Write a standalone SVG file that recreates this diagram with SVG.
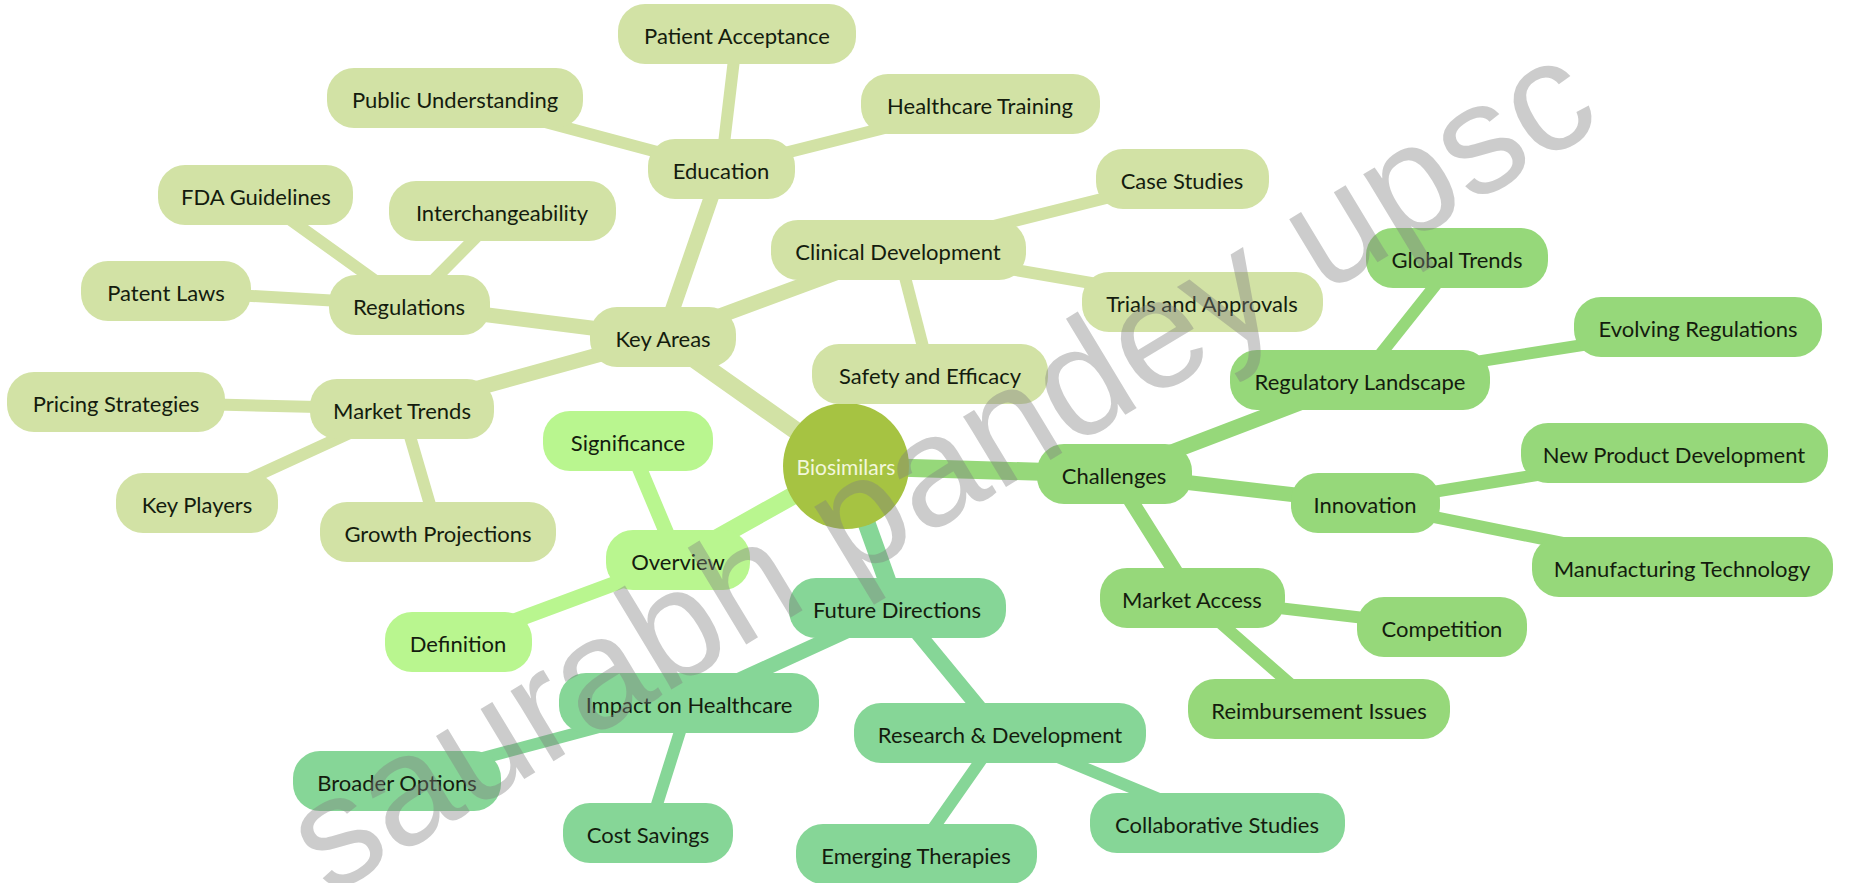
<svg xmlns="http://www.w3.org/2000/svg" width="1851" height="883" viewBox="0 0 1851 883">
<style>
text{font-family:Lato,"Open Sans","Liberation Sans",sans-serif;font-size:22px;fill:#141c0e;text-anchor:middle}
.ka rect{fill:#d2e2a5}
.ov rect{fill:#b9f68f}
.ch rect{fill:#96d87a}
.fd rect{fill:#86d697}
.e{fill:none;stroke-linecap:round}
.e1{stroke-width:18}
.e2{stroke-width:15}
.e3{stroke-width:12}
.cka{stroke:#d2e2a5}
.cov{stroke:#b9f68f}
.cch{stroke:#96d87a}
.cfd{stroke:#86d697}
.wm{font-family:"Liberation Sans",Arial,sans-serif;font-size:156px;fill:#7f7f7f;fill-opacity:0.4;text-anchor:start}
</style>
<rect width="1851" height="883" fill="#ffffff"/>
<g id="connectors">
<line class="e e1 cka" x1="846" y1="466" x2="663" y2="337"/>
<line class="e e1 cov" x1="846" y1="466" x2="678" y2="560"/>
<line class="e e1 cch" x1="846" y1="466" x2="1114" y2="474"/>
<line class="e e1 cfd" x1="846" y1="466" x2="897" y2="608"/>
<line class="e e2 cka" x1="663" y1="337" x2="721" y2="169"/>
<line class="e e2 cka" x1="663" y1="337" x2="409" y2="305"/>
<line class="e e2 cka" x1="663" y1="337" x2="402" y2="409"/>
<line class="e e2 cka" x1="663" y1="337" x2="898" y2="250"/>
<line class="e e3 cka" x1="721" y1="169" x2="737" y2="34"/>
<line class="e e3 cka" x1="721" y1="169" x2="455" y2="98"/>
<line class="e e3 cka" x1="721" y1="169" x2="980" y2="104"/>
<line class="e e3 cka" x1="409" y1="305" x2="256" y2="195"/>
<line class="e e3 cka" x1="409" y1="305" x2="502" y2="211"/>
<line class="e e3 cka" x1="409" y1="305" x2="166" y2="291"/>
<line class="e e3 cka" x1="402" y1="409" x2="116" y2="402"/>
<line class="e e3 cka" x1="402" y1="409" x2="197" y2="503"/>
<line class="e e3 cka" x1="402" y1="409" x2="438" y2="532"/>
<line class="e e3 cka" x1="898" y1="250" x2="1182" y2="179"/>
<line class="e e3 cka" x1="898" y1="250" x2="1202" y2="302"/>
<line class="e e3 cka" x1="898" y1="250" x2="930" y2="374"/>
<line class="e e2 cov" x1="678" y1="560" x2="628" y2="441"/>
<line class="e e2 cov" x1="678" y1="560" x2="458" y2="642"/>
<line class="e e2 cch" x1="1114" y1="474" x2="1360" y2="380"/>
<line class="e e2 cch" x1="1114" y1="474" x2="1365" y2="503"/>
<line class="e e2 cch" x1="1114" y1="474" x2="1192" y2="598"/>
<line class="e e3 cch" x1="1360" y1="380" x2="1457" y2="258"/>
<line class="e e3 cch" x1="1360" y1="380" x2="1698" y2="327"/>
<line class="e e3 cch" x1="1365" y1="503" x2="1674" y2="453"/>
<line class="e e3 cch" x1="1365" y1="503" x2="1682" y2="567"/>
<line class="e e3 cch" x1="1192" y1="598" x2="1442" y2="627"/>
<line class="e e3 cch" x1="1192" y1="598" x2="1319" y2="709"/>
<line class="e e2 cfd" x1="897" y1="608" x2="689" y2="703"/>
<line class="e e2 cfd" x1="897" y1="608" x2="1000" y2="733"/>
<line class="e e3 cfd" x1="689" y1="703" x2="397" y2="781"/>
<line class="e e3 cfd" x1="689" y1="703" x2="648" y2="833"/>
<line class="e e3 cfd" x1="1000" y1="733" x2="916" y2="853"/>
<line class="e e3 cfd" x1="1000" y1="733" x2="1217" y2="823"/>
</g>
<g id="n-biosimilars"><circle cx="846" cy="466" r="63" fill="#a6c342"/><text x="846" y="475" style="fill:#f2f7dc;font-size:21px">Biosimilars</text></g>
<g id="n-keyareas" class="ka"><rect x="590" y="307" width="146" height="60" rx="27"/><text x="663" y="347">Key Areas</text></g>
<g id="n-education" class="ka"><rect x="648" y="139" width="147" height="60" rx="27"/><text x="721" y="179">Education</text></g>
<g id="n-patientacceptance" class="ka"><rect x="618" y="4" width="238" height="60" rx="27"/><text x="737" y="44">Patient Acceptance</text></g>
<g id="n-publicunderstanding" class="ka"><rect x="327" y="68" width="256" height="60" rx="27"/><text x="455" y="108">Public Understanding</text></g>
<g id="n-healthcaretraining" class="ka"><rect x="861" y="74" width="239" height="60" rx="27"/><text x="980" y="114">Healthcare Training</text></g>
<g id="n-regulations" class="ka"><rect x="329" y="275" width="161" height="60" rx="27"/><text x="409" y="315">Regulations</text></g>
<g id="n-fdaguidelines" class="ka"><rect x="158" y="165" width="195" height="60" rx="27"/><text x="256" y="205">FDA Guidelines</text></g>
<g id="n-interchangeability" class="ka"><rect x="389" y="181" width="227" height="60" rx="27"/><text x="502" y="221">Interchangeability</text></g>
<g id="n-patentlaws" class="ka"><rect x="81" y="261" width="170" height="60" rx="27"/><text x="166" y="301">Patent Laws</text></g>
<g id="n-markettrends" class="ka"><rect x="310" y="379" width="184" height="60" rx="27"/><text x="402" y="419">Market Trends</text></g>
<g id="n-pricingstrategies" class="ka"><rect x="7" y="372" width="218" height="60" rx="27"/><text x="116" y="412">Pricing Strategies</text></g>
<g id="n-keyplayers" class="ka"><rect x="116" y="473" width="162" height="60" rx="27"/><text x="197" y="513">Key Players</text></g>
<g id="n-growthprojections" class="ka"><rect x="320" y="502" width="236" height="60" rx="27"/><text x="438" y="542">Growth Projections</text></g>
<g id="n-clinicaldevelopment" class="ka"><rect x="771" y="220" width="255" height="60" rx="27"/><text x="898" y="260">Clinical Development</text></g>
<g id="n-casestudies" class="ka"><rect x="1096" y="149" width="173" height="60" rx="27"/><text x="1182" y="189">Case Studies</text></g>
<g id="n-trialsandapprovals" class="ka"><rect x="1082" y="272" width="241" height="60" rx="27"/><text x="1202" y="312">Trials and Approvals</text></g>
<g id="n-safetyandefficacy" class="ka"><rect x="812" y="344" width="236" height="60" rx="27"/><text x="930" y="384">Safety and Efficacy</text></g>
<g id="n-overview" class="ov"><rect x="606" y="530" width="144" height="60" rx="27"/><text x="678" y="570">Overview</text></g>
<g id="n-significance" class="ov"><rect x="543" y="411" width="170" height="60" rx="27"/><text x="628" y="451">Significance</text></g>
<g id="n-definition" class="ov"><rect x="385" y="612" width="147" height="60" rx="27"/><text x="458" y="652">Definition</text></g>
<g id="n-challenges" class="ch"><rect x="1037" y="444" width="155" height="60" rx="27"/><text x="1114" y="484">Challenges</text></g>
<g id="n-regulatorylandscape" class="ch"><rect x="1230" y="350" width="260" height="60" rx="27"/><text x="1360" y="390">Regulatory Landscape</text></g>
<g id="n-globaltrends" class="ch"><rect x="1366" y="228" width="182" height="60" rx="27"/><text x="1457" y="268">Global Trends</text></g>
<g id="n-evolvingregulations" class="ch"><rect x="1574" y="297" width="248" height="60" rx="27"/><text x="1698" y="337">Evolving Regulations</text></g>
<g id="n-innovation" class="ch"><rect x="1291" y="473" width="149" height="60" rx="27"/><text x="1365" y="513">Innovation</text></g>
<g id="n-newproductdevelopment" class="ch"><rect x="1521" y="423" width="307" height="60" rx="27"/><text x="1674" y="463">New Product Development</text></g>
<g id="n-manufacturingtechnology" class="ch"><rect x="1532" y="537" width="301" height="60" rx="27"/><text x="1682" y="577">Manufacturing Technology</text></g>
<g id="n-marketaccess" class="ch"><rect x="1100" y="568" width="185" height="60" rx="27"/><text x="1192" y="608">Market Access</text></g>
<g id="n-competition" class="ch"><rect x="1357" y="597" width="170" height="60" rx="27"/><text x="1442" y="637">Competition</text></g>
<g id="n-reimbursementissues" class="ch"><rect x="1188" y="679" width="262" height="60" rx="27"/><text x="1319" y="719">Reimbursement Issues</text></g>
<g id="n-futuredirections" class="fd"><rect x="789" y="578" width="217" height="60" rx="27"/><text x="897" y="618">Future Directions</text></g>
<g id="n-impactonhealthcare" class="fd"><rect x="559" y="673" width="260" height="60" rx="27"/><text x="689" y="713">Impact on Healthcare</text></g>
<g id="n-broaderoptions" class="fd"><rect x="293" y="751" width="208" height="60" rx="27"/><text x="397" y="791">Broader Options</text></g>
<g id="n-costsavings" class="fd"><rect x="563" y="803" width="170" height="60" rx="27"/><text x="648" y="843">Cost Savings</text></g>
<g id="n-researchdevelopment" class="fd"><rect x="854" y="703" width="292" height="60" rx="27"/><text x="1000" y="743">Research &amp; Development</text></g>
<g id="n-emergingtherapies" class="fd"><rect x="796" y="824" width="241" height="60" rx="27"/><text x="916" y="864">Emerging Therapies</text></g>
<g id="n-collaborativestudies" class="fd"><rect x="1090" y="793" width="255" height="60" rx="27"/><text x="1217" y="833">Collaborative Studies</text></g>
<g id="watermark"><text class="wm" x="329" y="897" transform="rotate(-31.2 329 897)">saurabh pandey upsc</text></g>
</svg>
